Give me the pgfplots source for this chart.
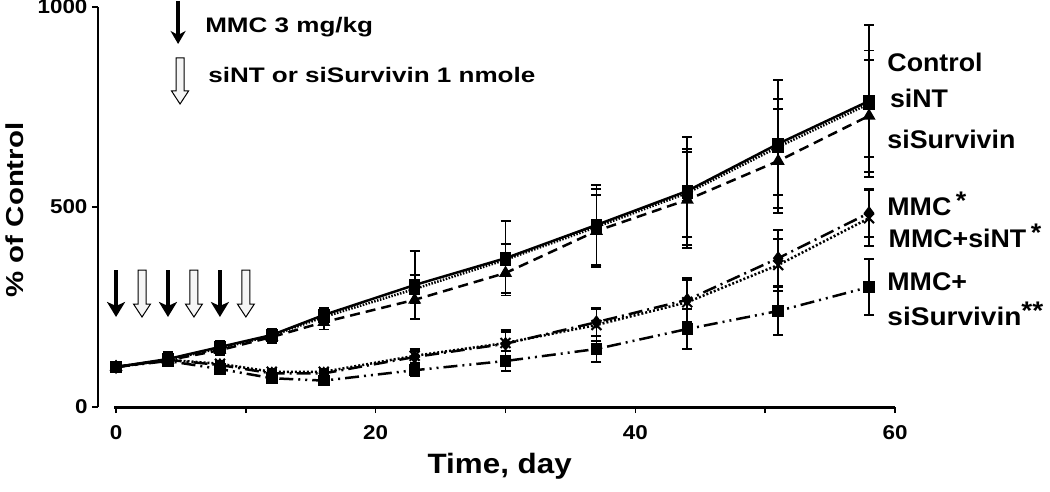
\documentclass[border=0pt]{standalone}
\usepackage{pgfplots}
\pgfplotsset{compat=1.18}
\usepackage{pgfplotstable}
\usepackage{fontspec}
\setmainfont{Liberation Sans}
\usepackage{graphicx}
\usetikzlibrary{arrows.meta}
\newcommand\sx[2][1.12]{\scalebox{#1}[1]{#2}}
\newcommand\tkfont{\fontsize{20}{20}\selectfont\bfseries}
\newcommand\lbfont{\fontsize{25.5}{25.5}\selectfont\bfseries}
\newcommand\anfont{\fontsize{21}{21}\selectfont\bfseries}

\pgfplotstableread{
x  ctl ectl nt  ent sv  esv mmc emmc mnt emnt msv emsv
0  100 0    100 0   100 0   100 0    100 0    100 0
4  120 18   118 10  117 10  118 10   118 12   115 10
8  150 15   147 10  142 12  105 8    108 8    95  10
12 180 15   178 12  175 15  84  8    88  8    72  8
16 230 18   225 15  212 18  84  8    88  8    66  8
23 305 86   295 35  268 48  125 15   128 18   92  15
30 372 93   368 40  335 50  158 30   160 32   115 25
37 455 100  450 95  440 90  212 35   205 40   145 32
44 540 135  535 110 518 120 268 55   262 55   195 50
51 658 160  650 120 615 130 372 70   355 65   240 60
58 765 190  758 133 728 140 485 60   472 70   300 70
}\data

\tikzset{
  blackarrow/.style={line width=4.5pt, -{Stealth[length=15pt,width=18pt,inset=4pt]}},
  hollow/.style={line width=1pt, fill=gray!8, line join=miter},
}
\newcommand\hollowarrow[2]{% #1 top coordinate, #2 shaft length
  \draw[hollow] (#1) ++(-4pt,0pt) -- ++(8pt,0pt) -- ++(0pt,-#2) -- ++(4.5pt,0pt) -- ++(-8.5pt,-13pt) -- ++(-8.5pt,13pt) -- ++(4.5pt,0pt) -- cycle;}

\begin{document}
\begin{tikzpicture}
\path[use as bounding box] (-98pt,-84pt) rectangle (952pt,407pt);
\begin{axis}[
  at={(0pt,0pt)}, anchor=south west,
  scale only axis, width=797pt, height=400pt,
  xmin=-1.39, xmax=60, ymin=0, ymax=1000,
  axis lines=left,
  axis line style={-, line width=1.5pt},
  x axis line style={draw=none},
  tick align=outside,
  major tick length=6pt,
  every tick/.style={black, line width=1.5pt},
  xtick={0,10,20,30,40,50,60},
  xticklabels={\sx{0},,\sx{20},,\sx{40},,\sx{60}},
  ytick={0,500,1000},
  yticklabels={\sx{0},\sx{500},\sx{1000}},
  tick label style={font=\tkfont},
  xticklabel style={yshift=-9pt},
  yticklabel style={xshift=-1pt},
  xlabel={\sx{Time, day}},
  xlabel style={font=\fontsize{28}{28}\selectfont\bfseries, at={(axis description cs:0.504,-0.165)}, anchor=base},
  ylabel={\sx[1.2]{\% of Control}},
  ylabel style={font=\fontsize{24.5}{24.5}\selectfont\bfseries, at={(axis description cs:-0.104,0.4925)}, anchor=center},
  clip=false,
  error bars/error bar style={line width=1.8pt, solid},
  error bars/error mark options={rotate=90, line width=1.8pt, mark size=5pt, solid},
]
% Control
\addplot[black, line width=2.5pt, mark=square*, mark size=4.5pt, mark options={solid},
  error bars/.cd, y dir=both, y explicit] table[x=x, y=ctl, y error=ectl]{\data};
% siNT
\addplot[black, line width=2.5pt, dash pattern=on 1.5pt off 1.5pt, mark=square*, mark size=4.5pt, mark options={solid},
  error bars/.cd, y dir=both, y explicit] table[x=x, y=nt, y error=ent]{\data};
% siSurvivin
\addplot[black, line width=2.5pt, dash pattern=on 10pt off 6pt, mark=triangle*, mark size=5pt, mark options={solid},
  error bars/.cd, y dir=both, y explicit] table[x=x, y=sv, y error=esv]{\data};
% MMC
\addplot[black, line width=2.5pt, dash pattern=on 14pt off 5pt on 2pt off 5pt, mark=diamond*, mark size=5pt, mark options={solid},
  error bars/.cd, y dir=both, y explicit] table[x=x, y=mmc, y error=emmc]{\data};
% MMC+siNT
\addplot[black, line width=2.5pt, dash pattern=on 2pt off 2pt, mark=x, mark size=7pt, mark options={solid, line width=2pt},
  error bars/.cd, y dir=both, y explicit] table[x=x, y=mnt, y error=emnt]{\data};
% MMC+siSurvivin
\addplot[black, line width=2.5pt, dash pattern=on 14pt off 5pt on 2pt off 5pt on 2pt off 5pt, mark=square*, mark size=4.5pt, mark options={solid},
  error bars/.cd, y dir=both, y explicit] table[x=x, y=msv, y error=emsv]{\data};

% x axis line
\draw[line width=3pt] (axis cs:-0.15,0) -- (axis cs:60,0);

% anchor points for the dosing arrows
\coordinate (a0) at (axis cs:0,342.5);
\coordinate (a2) at (axis cs:2,342.5);
\coordinate (a4) at (axis cs:4,342.5);
\coordinate (a6) at (axis cs:6,342.5);
\coordinate (a8) at (axis cs:8,342.5);
\coordinate (a10) at (axis cs:10,342.5);
\coordinate (lb) at (axis cs:4.78,1015);
\coordinate (lh) at (axis cs:4.93,872.5);

\node[anchor=base west, inner sep=0pt] at (axis cs:6.86,935) {\anfont\sx[1.24]{MMC 3 mg/kg}};
\node[anchor=base west, inner sep=0pt] at (axis cs:7.09,810) {\anfont\sx[1.24]{siNT or siSurvivin 1 nmole}};

% series labels
\node[anchor=base west, inner sep=0pt] at (axis cs:59.4,837.5) {\lbfont\sx[1.05]{Control}};
\node[anchor=base west, inner sep=0pt] at (axis cs:59.6,750) {\lbfont\sx[1.05]{siNT}};
\node[anchor=base west, inner sep=0pt] at (axis cs:59.4,647.5) {\lbfont\sx[1.05]{siSurvivin}};
\node[anchor=base west, inner sep=0pt] at (axis cs:59.4,480) {\lbfont\sx[1.05]{MMC\,\raisebox{6pt}{*}}};
\node[anchor=base west, inner sep=0pt] at (axis cs:59.5,400) {\lbfont\sx[1.05]{MMC+siNT\,\raisebox{6pt}{*}}};
\node[anchor=base west, inner sep=0pt] at (axis cs:59.4,292.5) {\lbfont\sx[1.05]{MMC+}};
\node[anchor=base west, inner sep=0pt] at (axis cs:59.4,205) {\lbfont\sx[1.1]{siSurvivin\raisebox{6pt}{**}}};
\end{axis}
% arrows (annotations)
\foreach \n in {0,4,8} {\draw[blackarrow] (a\n) -- ++(0pt,-47pt);}
\foreach \n in {2,6,10} {\hollowarrow{a\n}{34pt}}
\draw[line width=3.5pt, -{Stealth[length=13pt,width=15pt,inset=4pt]}] (lb) -- ++(0pt,-43pt);
\hollowarrow{lh}{33pt}
\end{tikzpicture}
\end{document}
